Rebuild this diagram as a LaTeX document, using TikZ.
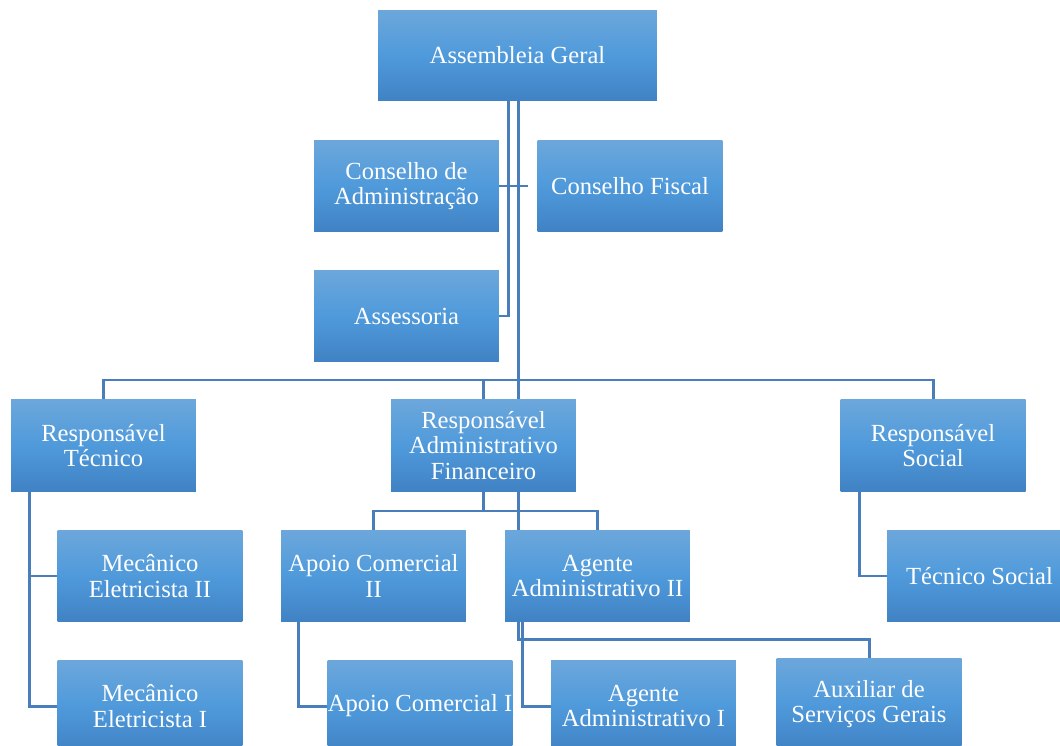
\documentclass[tikz,border=0pt]{standalone}
\usepackage{fontspec}
\setmainfont{Liberation Serif}
\definecolor{cxtopo}{RGB}{108,167,219}
\definecolor{cxmeio}{RGB}{79,154,219}
\definecolor{cxbase}{RGB}{64,130,196}
\definecolor{linha}{RGB}{74,126,187}
\begin{document}
\begin{tikzpicture}[x=0.02cm,y=-0.02cm,
		cargo/.style={top color=cxtopo,bottom color=cxbase,middle color=cxmeio,text=white,align=center,
			minimum width=3.7cm,minimum height=1.84cm,inner sep=0pt,font=\fontsize{14}{14.4}\selectfont},
		link/.style={draw=linha,line width=1.7pt}]
						\useasboundingbox (0,0) rectangle (1060,746);
						\node[cargo,minimum width=5.58cm,minimum height=1.82cm] (ag) at (517.5,55.5){Assembleia Geral};
						\node[cargo] (cadm) at (406.5,186){Conselho de\\Administração};
						\node[cargo] (cfis) at (630,186){Conselho Fiscal};
						\node[cargo] (ase) at (406.5,316){Assessoria};
						\node[cargo] (rtec) at (103.5,445.5){Responsável\\Técnico};
						\node[cargo] (radm) at (483.5,445.5){Responsável\\Administrativo\\Financeiro};
						\node[cargo] (rsoc) at (933,445.5){Responsável\\Social};
						\node[cargo] (mec2) at (150,576){Mecânico\\Eletricista II};
						\node[cargo] (apo2) at (373.5,576){Apoio Comercial\\II};
						\node[cargo] (age2) at (597.5,576){Agente\\Administrativo II};
						\node[cargo] (tsoc) at (979.5,576){Técnico Social};
						\node[cargo] (mec1) at (150,706){Mecânico\\Eletricista I};
						\node[cargo] (apo1) at (420,706){Apoio Comercial I};
						\node[cargo] (age1) at (643.5,706){Agente\\Administrativo I};
						\node[cargo] (aux) at (869,704){Auxiliar de\\Serviços Gerais};
						
						\coordinate (eixo) at (518,380);
						\coordinate (garfo) at (483.5,511);
						\coordinate (curva) at (518,639);
						
						\draw[link] (ag.south -| 508,0) |- (ase.east);
						\draw[link,shorten >=0.18cm] (cadm.east) -- (cfis.west);
						\draw[link] (ag.south -| eixo) -- (radm.north -| eixo);
						\draw[link] (rtec.north) |- (eixo) -| (rsoc.north);
						\draw[link] (radm.north) |- (eixo);
						\draw[link] (radm.south) -- (garfo);
						\draw[link] (apo2.north) |- (garfo) -| (age2.north);
						\draw[link] (radm.south -| curva) -- (age2.north -| curva);
						\draw[link] (age2.south -| curva) -- (curva) -| (aux.north);
						\draw[link] ([xshift=0.38cm]rtec.south west) |- (mec2.west);
						\draw[link] ([xshift=0.38cm]rtec.south west) |- (mec1.west);
						\draw[link] ([xshift=0.36cm]apo2.south west) |- (apo1.west);
						\draw[link] ([xshift=0.36cm]age2.south west) |- (age1.west);
						\draw[link] ([xshift=0.38cm]rsoc.south west) |- (tsoc.west);
					\end{tikzpicture}
\end{document}
